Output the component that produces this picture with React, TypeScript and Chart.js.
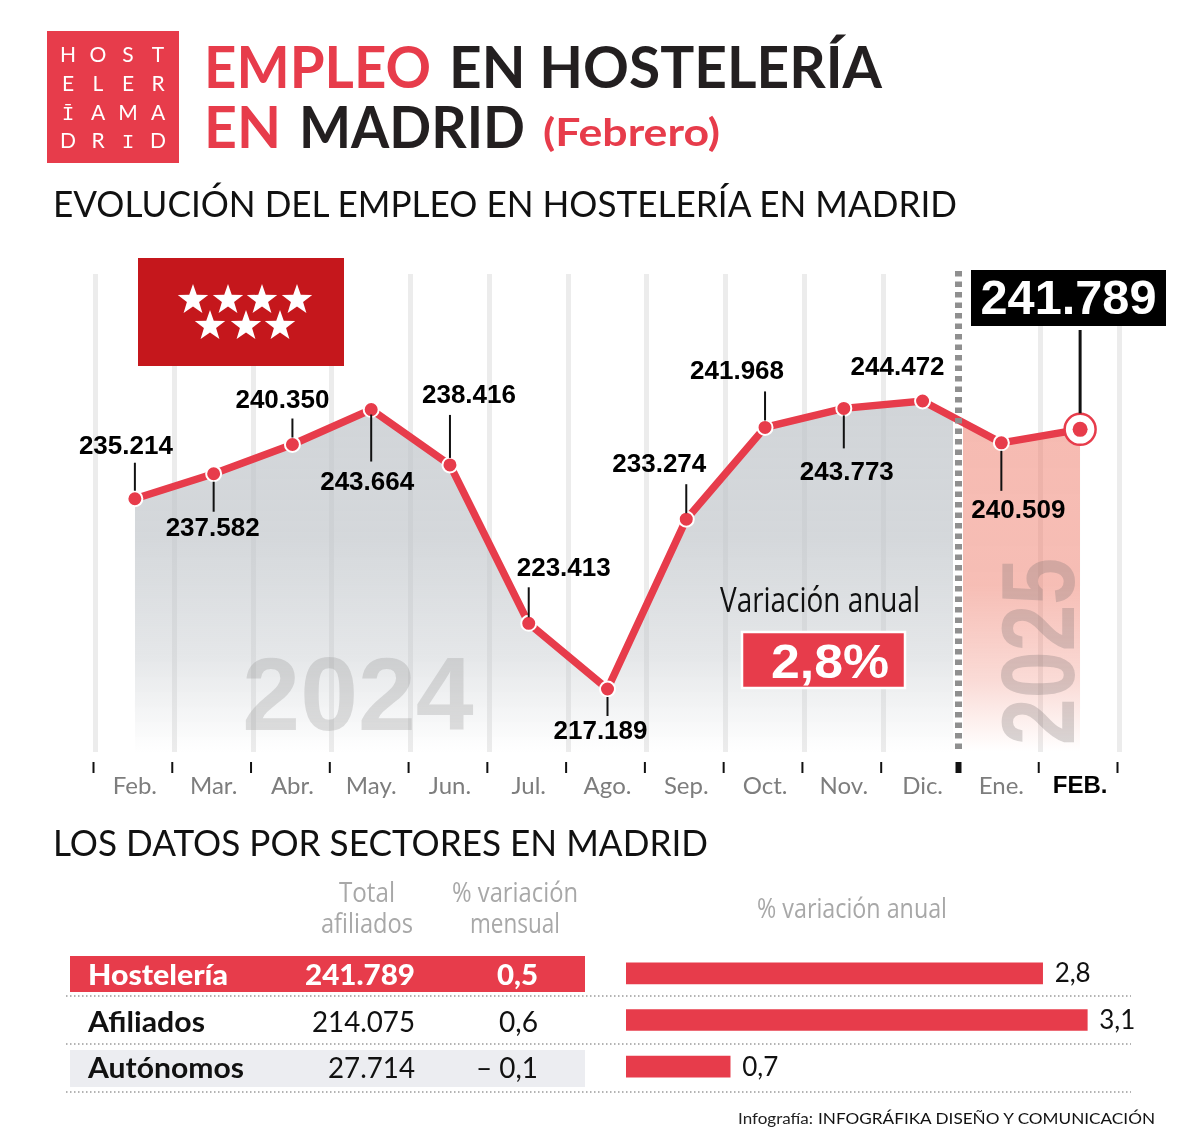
import React, { useEffect, useRef } from "react";
import { Chart, registerables } from "chart.js";

Chart.register(...registerables);

const MONTHS = ["Feb.", "Mar.", "Abr.", "May.", "Jun.", "Jul.", "Ago.", "Sep.", "Oct.", "Nov.", "Dic.", "Ene.", "FEB."];
const EMPLOYMENT = [235214, 237582, 240350, 243664, 238416, 223413, 217189, 233274, 241968, 243773, 244472, 240509, 241789];
const SECTORS = ["Hostelería", "Afiliados", "Autónomos"];
const TOTAL_AFFILIATED = ["241.789", "214.075", "27.714"];
const MONTHLY_CHANGE = ["0,5", "0,6", "– 0,1"];
const ANNUAL_CHANGE = [2.8, 3.1, 0.7];
const LOGO_ROWS = [["H", "O", "S", "T"], ["E", "L", "E", "R"], ["Ī", "A", "M", "A"], ["D", "R", "I", "D"]];

const RED = "#e73c4b";
const FONT = "Lato, 'Noto Sans', sans-serif";
const LABEL_FONT = "'Liberation Sans', Arial, sans-serif";
const OFFSET_Y = 240;
const AREA_LEFT = 95.5;
const AREA_RIGHT = 1119.5;
const GRAY_END = 953;
const PINK_START = 963;

// label placement relative to each point: [dx of text centre, baseline y offset, leader start, leader end]
const LABEL_PLACEMENT: number[][] = [
  [-9, -45, -8, -36],
  [-1, 62, 8, 38],
  [-10, -37, -7, -26],
  [-4, 80, 5, 52],
  [19, -62, -7, -50],
  [35, -47, -6, -36],
  [-7, 50, 8, 27],
  [-27, -47, -6, -35],
  [-28, -48, -7, -36],
  [3, 72, 7, 40],
  [-25, -26, 0, 0],
  [17, 75, 8, 48],
];

const fmt = (n: number) => String(n).replace(/\B(?=(\d{3})+$)/g, ".");

const verticalFill = (stops: [number, string][]) => (c: any) => {
  const a = c.chart.chartArea;
  if (!a) return "rgba(0,0,0,0)";
  const g = c.chart.ctx.createLinearGradient(0, a.top, 0, a.bottom);
  stops.forEach(([p, col]) => g.addColorStop(p, col));
  return g;
};

const annotations = {
  id: "annotations",
  afterDatasetsDraw(chart: any) {
    const { ctx, chartArea } = chart;
    const points = chart.getDatasetMeta(2).data;
    const xs = chart.scales.x;
    const step = xs.width / MONTHS.length;
    ctx.save();

    // watermarks
    ctx.fillStyle = "rgba(150,150,150,0.3)";
    ctx.font = `bold 104px ${LABEL_FONT}`;
    ctx.textAlign = "center";
    ctx.textBaseline = "alphabetic";
    ctx.fillText("2024", 358, 730 - OFFSET_Y);
    ctx.save();
    ctx.translate(1074, 651.5 - OFFSET_Y);
    ctx.rotate(-Math.PI / 2);
    ctx.scale(0.81, 1);
    ctx.fillStyle = "rgba(120,110,110,0.28)";
    ctx.fillText("2025", 0, 0);
    ctx.restore();

    // divider
    ctx.strokeStyle = "#8f8f8f";
    ctx.lineWidth = 7;
    ctx.setLineDash([5.5, 5]);
    const divX = 958.5;
    ctx.beginPath();
    ctx.moveTo(divX, chartArea.top - 3);
    ctx.lineTo(divX, chartArea.bottom);
    ctx.stroke();
    ctx.setLineDash([]);

    // tick marks
    ctx.strokeStyle = "#111";
    for (let i = 0; i <= MONTHS.length; i++) {
      const x = xs.left + i * step - 2;
      ctx.lineWidth = i === 11 ? 6 : 2;
      ctx.beginPath();
      ctx.moveTo(i === 11 ? divX : x, chartArea.bottom + 10);
      ctx.lineTo(i === 11 ? divX : x, chartArea.bottom + 21);
      ctx.stroke();
    }

    // value labels and leaders
    ctx.font = `bold 26px ${LABEL_FONT}`;
    ctx.textAlign = "center";
    ctx.lineWidth = 2;
    LABEL_PLACEMENT.forEach((p, i) => {
      const pt = points[i];
      if (p[2] !== p[3]) {
        ctx.strokeStyle = "#111";
        ctx.beginPath();
        ctx.moveTo(pt.x, pt.y + p[2]);
        ctx.lineTo(pt.x, pt.y + p[3]);
        ctx.stroke();
      }
      ctx.fillStyle = "#000";
      ctx.fillText(fmt(EMPLOYMENT[i]), pt.x + p[0], pt.y + p[1]);
    });

    // current month highlight
    const last = points[points.length - 1];
    ctx.strokeStyle = "#111";
    ctx.lineWidth = 3;
    ctx.beginPath();
    ctx.moveTo(last.x, 330 - OFFSET_Y);
    ctx.lineTo(last.x, last.y - 16);
    ctx.stroke();
    ctx.fillStyle = RED;
    ctx.beginPath();
    ctx.arc(last.x, last.y, 7.5, 0, Math.PI * 2);
    ctx.fill();
    ctx.restore();
  },
};

const barLabels = {
  id: "barLabels",
  afterDatasetsDraw(chart: any) {
    const { ctx } = chart;
    ctx.save();
    ctx.font = `26px ${FONT}`;
    ctx.fillStyle = "#111";
    ctx.textAlign = "left";
    ctx.textBaseline = "middle";
    chart.getDatasetMeta(0).data.forEach((b: any, i: number) => {
      ctx.fillText(String(ANNUAL_CHANGE[i]).replace(".", ","), b.x + 12, b.y + 0.5);
    });
    ctx.restore();
  },
};

const Star = ({ cx, cy, r }: any) => {
  const pts = [];
  for (let i = 0; i < 10; i++) {
    const rad = i % 2 === 0 ? r : r * 0.4;
    const a = -Math.PI / 2 + (i * Math.PI) / 5;
    pts.push(`${cx + rad * Math.cos(a)},${cy + rad * Math.sin(a)}`);
  }
  return <polygon points={pts.join(" ")} fill="#fff" />;
};

const STAR_ROW_1 = [193, 228, 262, 297];
const STAR_ROW_2 = [210, 246, 280];

const Txt = ({ x, y, w, size, weight = 400, fill = "#111", anchor = "start", family = FONT, children }: any) => (
  <text
    x={x}
    y={y}
    fontFamily={family}
    fontSize={size}
    fontWeight={weight}
    fill={fill}
    textAnchor={anchor}
    {...(w ? { textLength: w, lengthAdjust: "spacingAndGlyphs" } : {})}
  >
    {children}
  </text>
);

export default function App() {
  const lineRef = useRef<HTMLCanvasElement>(null);
  const barRef = useRef<HTMLCanvasElement>(null);

  useEffect(() => {
    const lineChart = new Chart(lineRef.current as HTMLCanvasElement, {
      type: "line",
      data: {
        labels: MONTHS,
        datasets: [
          {
            label: "2024",
            data: EMPLOYMENT,
            borderWidth: 0,
            pointRadius: 0,
            fill: "origin",
            backgroundColor: verticalFill([
              [0, "rgba(190,195,200,0.75)"],
              [0.55, "rgba(190,195,200,0.65)"],
              [0.8, "rgba(190,195,200,0.4)"],
              [1, "rgba(190,195,200,0)"],
            ]),
            clip: { left: 10, top: 10, bottom: 0, right: -(AREA_RIGHT - GRAY_END) },
            order: 5,
          },
          {
            label: "2025",
            data: EMPLOYMENT,
            borderWidth: 0,
            pointRadius: 0,
            fill: "origin",
            backgroundColor: verticalFill([
              [0, "rgba(238,125,108,0.55)"],
              [0.65, "rgba(238,125,108,0.5)"],
              [0.85, "rgba(238,125,108,0.28)"],
              [1, "rgba(238,125,108,0)"],
            ]),
            clip: { left: -(PINK_START - AREA_LEFT), top: 10, bottom: 0, right: 10 },
            order: 4,
          },
          {
            label: "Empleo",
            data: EMPLOYMENT,
            borderColor: RED,
            borderWidth: 7.5,
            tension: 0,
            fill: false,
            pointRadius: MONTHS.map((_, i) => (i === MONTHS.length - 1 ? 15.5 : 7.5)),
            pointBackgroundColor: MONTHS.map((_, i) => (i === MONTHS.length - 1 ? "#fff" : RED)),
            pointBorderColor: MONTHS.map((_, i) => (i === MONTHS.length - 1 ? RED : "#fff")),
            pointBorderWidth: MONTHS.map((_, i) => (i === MONTHS.length - 1 ? 2.5 : 2)),
            clip: false,
            order: 1,
          },
        ],
      },
      options: {
        animation: false,
        responsive: false,
        layout: { padding: { left: AREA_LEFT, right: 1180 - AREA_RIGHT, top: 34, bottom: 0 } },
        plugins: { legend: { display: false }, tooltip: { enabled: false } },
        scales: {
          x: {
            type: "category",
            offset: true,
            afterFit: (s: any) => {
              s.height = 58;
            },
            border: { display: false },
            grid: {
              offset: true,
              drawTicks: false,
              lineWidth: 5,
              color: (c: any) => (c.index === 11 ? "rgba(0,0,0,0)" : "#ececec"),
            },
            ticks: {
              autoSkip: false,
              maxRotation: 0,
              padding: 20,
              color: MONTHS.map((_, i) => (i === MONTHS.length - 1 ? "#000" : "#7d7d7d")),
              font: (c: any) =>
                c.index === MONTHS.length - 1
                  ? { family: LABEL_FONT, size: 24, weight: "bold" }
                  : { family: FONT, size: 24, weight: "normal" },
            },
          },
          y: { display: false, min: 211221, max: 256503 },
        },
      } as any,
      plugins: [annotations],
    });

    const barChart = new Chart(barRef.current as HTMLCanvasElement, {
      type: "bar",
      data: {
        labels: SECTORS,
        datasets: [{ data: ANNUAL_CHANGE, backgroundColor: RED, barThickness: 21, borderWidth: 0 }],
      },
      options: {
        indexAxis: "y",
        animation: false,
        responsive: false,
        layout: { padding: 0 },
        plugins: { legend: { display: false }, tooltip: { enabled: false } },
        scales: {
          x: { display: false, min: 0, max: 530 / 148.8 },
          y: { display: false },
        },
      } as any,
      plugins: [barLabels],
    });

    return () => {
      lineChart.destroy();
      barChart.destroy();
    };
  }, []);

  const logoX = [68, 98, 128, 158];
  const logoY = [62, 91, 120, 148];
  const rowBase = [985, 1032, 1078];
  const nameW = [140, 117, 156];
  const totalW = [110, 103, 87];
  const changeW = [41, 39, 62];

  return (
    <div style={{ position: "absolute", left: 0, top: 0, width: 1180, height: 1141, background: "#fff", overflow: "hidden" }}>
      <canvas ref={lineRef} width={1180} height={570} style={{ position: "absolute", left: 0, top: OFFSET_Y, display: "block" }} />
      <canvas ref={barRef} width={530} height={140} style={{ position: "absolute", left: 626, top: 950, display: "block" }} />
      <svg width={1180} height={1141} style={{ position: "absolute", left: 0, top: 0, pointerEvents: "none" }}>
        {/* logo */}
        <rect x={47} y={31} width={132} height={132} fill={RED} />
        {LOGO_ROWS.map((row, r) =>
          row.map((ch, c) => (
            <Txt
              key={`${r}-${c}`}
              x={logoX[c]}
              y={logoY[r]}
              size={21}
              fill="#fff"
              anchor="middle"
              family={ch === "I" || ch === "Ī" ? "'Liberation Mono', monospace" : FONT}
            >
              {ch}
            </Txt>
          ))
        )}
        {/* title */}
        <Txt x={204} y={88} w={227} size={58} weight={700} fill={RED}>EMPLEO</Txt>
        <Txt x={449} y={88} w={433} size={58} weight={700} fill="#231f20">EN HOSTELERÍA</Txt>
        <Txt x={204} y={148} w={77} size={58} weight={700} fill={RED}>EN</Txt>
        <Txt x={299} y={148} w={226} size={58} weight={700} fill="#231f20">MADRID</Txt>
        <Txt x={543} y={146} w={177} size={38} weight={700} fill={RED}>(Febrero)</Txt>
        <Txt x={53} y={217} w={904} size={37}>EVOLUCIÓN DEL EMPLEO EN HOSTELERÍA EN MADRID</Txt>
        {/* flag */}
        <rect x={138} y={258} width={206} height={108} fill="#c5171c" />
        {STAR_ROW_1.map((cx) => <Star key={cx} cx={cx} cy={300} r={16} />)}
        {STAR_ROW_2.map((cx) => <Star key={cx} cx={cx} cy={326} r={16} />)}
        {/* current value */}
        <rect x={971} y={270} width={195} height={56} fill="#000" />
        <Txt x={1068.5} y={314} w={176} size={49} weight={700} fill="#fff" anchor="middle" family={LABEL_FONT}>241.789</Txt>
        {/* variation */}
        <Txt x={820} y={612} w={200} size={34} anchor="middle" family="'Open Sans', sans-serif">Variación anual</Txt>
        <rect x={742} y={632} width={163} height={56} fill={RED} stroke="#fff" strokeWidth={2.5} />
        <Txt x={830} y={678} w={118} size={49} weight={700} fill="#fff" anchor="middle" family={LABEL_FONT}>2,8%</Txt>
        {/* table */}
        <Txt x={53} y={856} w={655} size={37}>LOS DATOS POR SECTORES EN MADRID</Txt>
        <Txt x={367} y={902} w={56} size={28} fill="#a8a8a8" anchor="middle" family="'Open Sans', sans-serif">Total</Txt>
        <Txt x={367} y={933} w={92} size={28} fill="#a8a8a8" anchor="middle" family="'Open Sans', sans-serif">afiliados</Txt>
        <Txt x={515} y={902} w={126} size={28} fill="#a8a8a8" anchor="middle" family="'Open Sans', sans-serif">% variación</Txt>
        <Txt x={515} y={933} w={90} size={28} fill="#a8a8a8" anchor="middle" family="'Open Sans', sans-serif">mensual</Txt>
        <Txt x={852} y={918} w={190} size={28} fill="#a8a8a8" anchor="middle" family="'Open Sans', sans-serif">% variación anual</Txt>
        <rect x={70} y={956} width={515} height={36} fill={RED} />
        <rect x={70} y={1050} width={515} height={37} fill="#ecedf1" />
        {[996, 1044, 1092].map((y) => (
          <line key={y} x1={66} x2={1131} y1={y} y2={y} stroke="#9a9a9a" strokeWidth={1.5} strokeDasharray="1.5 2.5" />
        ))}
        {SECTORS.map((s, i) => (
          <g key={s}>
            <Txt x={88} y={rowBase[i]} w={nameW[i]} size={29} weight={i === 0 ? 900 : 700} fill={i === 0 ? "#fff" : "#111"}>{s}</Txt>
            <Txt x={415} y={rowBase[i]} w={totalW[i]} size={29} weight={i === 0 ? 900 : 400} fill={i === 0 ? "#fff" : "#111"} anchor="end">{TOTAL_AFFILIATED[i]}</Txt>
            <Txt x={538} y={rowBase[i]} w={changeW[i]} size={29} weight={i === 0 ? 900 : 400} fill={i === 0 ? "#fff" : "#111"} anchor="end">{MONTHLY_CHANGE[i]}</Txt>
          </g>
        ))}
        {/* credit */}
        <Txt x={738} y={1124} w={75} size={16} fill="#222">Infografía:</Txt>
        <Txt x={818} y={1124} w={337} size={16} fill="#111">INFOGRÁFIKA DISEÑO Y COMUNICACIÓN</Txt>
      </svg>
    </div>
  );
}
